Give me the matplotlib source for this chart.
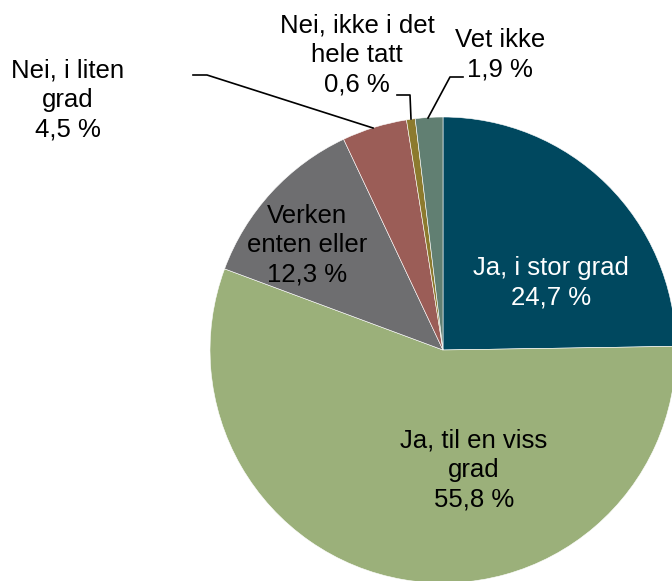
import matplotlib.pyplot as plt

# svar og andeler (prosent)
kategorier = ["Ja, i stor grad", "Ja, til en viss grad", "Verken enten eller",
              "Nei, i liten grad", "Nei, ikke i det hele tatt", "Vet ikke"]
andeler = [24.7, 55.8, 12.3, 4.5, 0.6, 1.9]
etiketter = ["Ja, i stor grad\n24,7 %", "Ja, til en viss\ngrad\n55,8 %",
             "Verken\nenten eller\n12,3 %", "Nei, i liten\ngrad\n4,5 %",
             "Nei, ikke i det\nhele tatt\n0,6 %", "Vet ikke\n1,9 %"]
farger = ["#00485F", "#9BB07A", "#6E6E70", "#9B5D57", "#8C7A2E", "#617F72"]

plt.rcParams['font.family'] = ['Liberation Sans', 'DejaVu Sans']

W, H = 672, 581
fig = plt.figure(figsize=(W / 100, H / 100), dpi=100)
ax = fig.add_axes([0, 0, 1, 1])

cx, cy, r = 443, H - 350, 233
ax.pie(andeler, colors=farger, startangle=90, counterclock=False,
       center=(cx, cy), radius=r, frame=True,
       wedgeprops=dict(edgecolor='white', linewidth=0.4))
ax.set_xlim(0, W)
ax.set_ylim(0, H)
ax.set_aspect('equal')
ax.axis('off')

# etikettposisjoner (piksler fra toppen)
pos = [(551, 283), (474, 470), (307, 245), (68, 100), (357, 55), (500, 55)]
tekstfarge = ['white', 'black', 'black', 'black', 'black', 'black']
for lab, (x, y), c in zip(etiketter, pos, tekstfarge):
    ax.text(x, H - y, lab, ha='center', va='center', fontsize=18.5,
            color=c, linespacing=1.27)

# ledelinjer
linjer = [[(193, 75), (207, 75), (373, 128)],
          [(397, 95), (410, 95), (411, 119)],
          [(463, 77), (450, 77), (428, 118)]]
for ln in linjer:
    xs = [p[0] for p in ln]
    ys = [H - p[1] for p in ln]
    ax.plot(xs, ys, color='black', lw=1.2)

fig.savefig('out.png', dpi=100)
